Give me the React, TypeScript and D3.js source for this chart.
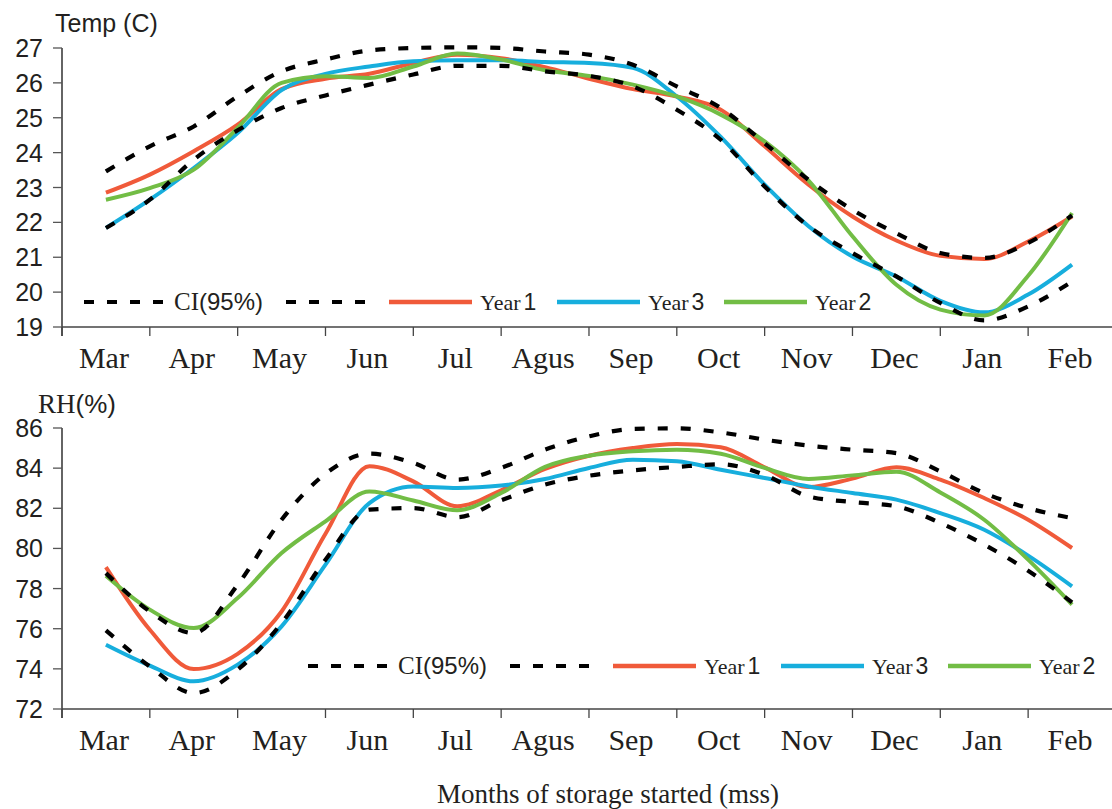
import React from "react";
import * as d3 from "d3";

// ---------- DATA ----------
const months = ["Mar", "Apr", "May", "Jun", "Jul", "Agus", "Sep", "Oct", "Nov", "Dec", "Jan", "Feb"];
// storage time in months after the middle of March (half-month readings)
const storageMonth = [0, 0.5, 1, 1.5, 2, 2.5, 3, 3.5, 4, 4.5, 5, 5.5, 6, 6.5, 7, 7.5, 8, 8.5, 9, 9.5, 10, 10.5, 11];

const tempTicks = [19, 20, 21, 22, 23, 24, 25, 26, 27];
const tempYear1 = [22.85, 23.37, 24.04, 24.8, 25.82, 26.12, 26.26, 26.57, 26.81, 26.71, 26.45, 26.12, 25.82, 25.61, 25.23, 24.18, 23.08, 22.17, 21.48, 21.04, 20.95, 21.45, 22.17];
const tempYear3 = [21.84, 22.65, 23.56, 24.56, 25.79, 26.26, 26.47, 26.62, 26.65, 26.65, 26.6, 26.57, 26.43, 25.61, 24.45, 23.08, 21.89, 21.02, 20.45, 19.75, 19.42, 19.93, 20.79];
const tempYear2 = [22.65, 22.98, 23.51, 24.71, 26.0, 26.19, 26.14, 26.47, 26.84, 26.67, 26.36, 26.2, 25.95, 25.61, 25.09, 24.32, 23.2, 21.6, 20.21, 19.5, 19.33, 20.47, 22.27];
const tempCIUpper = [23.46, 24.18, 24.75, 25.61, 26.33, 26.67, 26.93, 27.0, 27.02, 27.0, 26.9, 26.81, 26.52, 25.9, 25.28, 24.27, 23.22, 22.36, 21.69, 21.12, 20.98, 21.41, 22.2];
const tempCILower = [21.84, 22.65, 23.8, 24.64, 25.28, 25.64, 25.95, 26.24, 26.49, 26.49, 26.33, 26.2, 25.9, 25.23, 24.37, 23.03, 21.89, 21.12, 20.45, 19.69, 19.19, 19.59, 20.3];

const rhTicks = [72, 74, 76, 78, 80, 82, 84, 86];
const rhYear1 = [79.07, 75.95, 73.99, 74.75, 76.86, 80.73, 84.1, 83.34, 82.1, 82.9, 83.96, 84.62, 85.0, 85.2, 85.04, 84.04, 83.06, 83.48, 84.04, 83.43, 82.51, 81.43, 80.02];
const rhYear3 = [75.2, 74.16, 73.38, 74.21, 76.12, 79.19, 82.26, 83.09, 83.01, 83.13, 83.46, 84.01, 84.42, 84.34, 83.92, 83.51, 83.09, 82.76, 82.43, 81.76, 80.93, 79.64, 78.11];
const rhYear2 = [78.64, 76.95, 76.03, 77.53, 79.77, 81.35, 82.84, 82.39, 81.9, 82.76, 84.06, 84.62, 84.84, 84.92, 84.72, 84.01, 83.46, 83.64, 83.82, 82.79, 81.43, 79.44, 77.2];
const rhCIUpper = [78.77, 76.86, 75.78, 78.19, 81.43, 83.72, 84.72, 84.26, 83.43, 84.01, 84.92, 85.58, 85.95, 85.98, 85.78, 85.42, 85.12, 84.92, 84.75, 83.84, 82.76, 82.01, 81.51];
const rhCILower = [75.92, 74.12, 72.79, 73.96, 76.28, 79.44, 81.93, 82.01, 81.56, 82.4, 83.18, 83.62, 83.89, 84.06, 84.19, 83.67, 82.59, 82.31, 82.1, 81.27, 80.19, 78.89, 77.31];

// ---------- STYLE ----------
const RED = "#F05A3A";
const CYAN = "#17AEDD";
const GREEN = "#72BD45";
const INK = "#231f20";
const SERIF = "'Liberation Serif', 'Times New Roman', serif";
const SANS = "'Liberation Sans', Arial, sans-serif";
const DASH = "10,13";

const W = 1112;
const H = 809;
const LEFT = 62;

const band = d3.scaleBand<string>().domain(months).range([LEFT, LEFT + 12 * 87.83]).padding(0);
const xT = d3
  .scaleLinear()
  .domain([0, 11])
  .range([(band("Mar") as number) + band.bandwidth() / 2, (band("Feb") as number) + band.bandwidth() / 2]);

type Series = { values: number[]; color: string; dashed?: boolean };

function Panel(props: {
  yDomain: [number, number];
  yRange: [number, number];
  ticks: number[];
  series: Series[];
  legendX: number;
  legendY: number;
}) {
  const { yDomain, yRange, ticks, series, legendX, legendY } = props;
  const y = d3.scaleLinear().domain(yDomain).range(yRange);
  const baseY = yRange[0];
  const line = (vals: number[]) =>
    d3
      .line<number>()
      .x((_, i) => xT(storageMonth[i]))
      .y((v) => y(v))
      .curve(d3.curveMonotoneX)(vals) as string;

  const boundaries = months.map((m) => band(m) as number);

  return (
    <g>
      {/* y axis */}
      <line x1={LEFT} x2={LEFT} y1={yRange[1]} y2={baseY + 9} stroke="#111" strokeWidth={1.3} />
      {ticks.map((t) => (
        <g key={t}>
          <line x1={LEFT - 9} x2={LEFT} y1={y(t)} y2={y(t)} stroke="#555" strokeWidth={1.3} />
          <text x={43} y={y(t) + 9} textAnchor="end" fontFamily={SANS} fontSize={25} fill={INK}>
            {t}
          </text>
        </g>
      ))}
      {/* x axis */}
      <line x1={LEFT} x2={W} y1={baseY} y2={baseY} stroke="#444" strokeWidth={1.3} />
      {boundaries.map((bx, i) => (
        <line key={i} x1={bx} x2={bx} y1={baseY} y2={baseY + 9} stroke="#444" strokeWidth={1.3} />
      ))}
      {months.map((m) => (
        <text
          key={m}
          x={(band(m) as number) + band.bandwidth() / 2 - 2}
          y={baseY + 41}
          textAnchor="middle"
          fontFamily={SERIF}
          fontSize={30}
          fill={INK}
        >
          {m}
        </text>
      ))}
      {/* series */}
      {series
        .filter((s) => !s.dashed)
        .map((s, i) => (
          <path key={"s" + i} d={line(s.values)} fill="none" stroke={s.color} strokeWidth={4} strokeLinejoin="round" />
        ))}
      {series
        .filter((s) => s.dashed)
        .map((s, i) => (
          <path key={"d" + i} d={line(s.values)} fill="none" stroke="#000" strokeWidth={4.2} strokeDasharray={DASH} />
        ))}
      <Legend x={legendX} y={legendY} />
    </g>
  );
}

function Legend(props: { x: number; y: number }) {
  const { x, y } = props;
  const items = [
    { color: RED, num: "1", lx: 305, tx: 396 },
    { color: CYAN, num: "3", lx: 473, tx: 564 },
    { color: GREEN, num: "2", lx: 640, tx: 731 },
  ];
  return (
    <g transform={`translate(${x},${y})`}>
      <line x1={0} x2={82} y1={0} y2={0} stroke="#000" strokeWidth={4.2} strokeDasharray={DASH} />
      <text x={90} y={8} fill={INK}>
        <tspan fontFamily={SERIF} fontSize={25}>CI</tspan>
        <tspan fontFamily={SANS} fontSize={24}>(95%)</tspan>
      </text>
      <line x1={202} x2={284} y1={0} y2={0} stroke="#000" strokeWidth={4.2} strokeDasharray={DASH} />
      {items.map((it) => (
        <g key={it.num}>
          <line x1={it.lx} x2={it.lx + 83} y1={0} y2={0} stroke={it.color} strokeWidth={4.5} />
          <text x={it.tx} y={8} fill={INK}>
            <tspan fontFamily={SERIF} fontSize={22}>Year</tspan>
            <tspan fontFamily={SANS} fontSize={23} dx={3}>{it.num}</tspan>
          </text>
        </g>
      ))}
    </g>
  );
}

export default function App() {
  return (
    <svg
      width={W}
      height={H}
      viewBox={`0 0 ${W} ${H}`}
      style={{ position: "absolute", left: 0, top: 0, background: "#fff" }}
    >
      <rect width={W} height={H} fill="#fff" />
      <text x={55} y={32} fontFamily={SANS} fontSize={25} fill={INK}>
        Temp (C)
      </text>
      <Panel
        yDomain={[19, 27]}
        yRange={[327, 48]}
        ticks={tempTicks}
        legendX={84}
        legendY={302}
        series={[
          { values: tempYear1, color: RED },
          { values: tempYear3, color: CYAN },
          { values: tempYear2, color: GREEN },
          { values: tempCIUpper, color: "#000", dashed: true },
          { values: tempCILower, color: "#000", dashed: true },
        ]}
      />
      <text x={38} y={413} fill={INK}>
        <tspan fontFamily={SERIF} fontSize={27}>RH</tspan>
        <tspan fontFamily={SANS} fontSize={26}>(%)</tspan>
      </text>
      <Panel
        yDomain={[72, 86]}
        yRange={[709, 428]}
        ticks={rhTicks}
        legendX={308}
        legendY={666}
        series={[
          { values: rhYear1, color: RED },
          { values: rhYear3, color: CYAN },
          { values: rhYear2, color: GREEN },
          { values: rhCIUpper, color: "#000", dashed: true },
          { values: rhCILower, color: "#000", dashed: true },
        ]}
      />
      <text x={608} y={803} textAnchor="middle" fontFamily={SERIF} fontSize={27} fill={INK}>
        Months of storage started (mss)
      </text>
    </svg>
  );
}
